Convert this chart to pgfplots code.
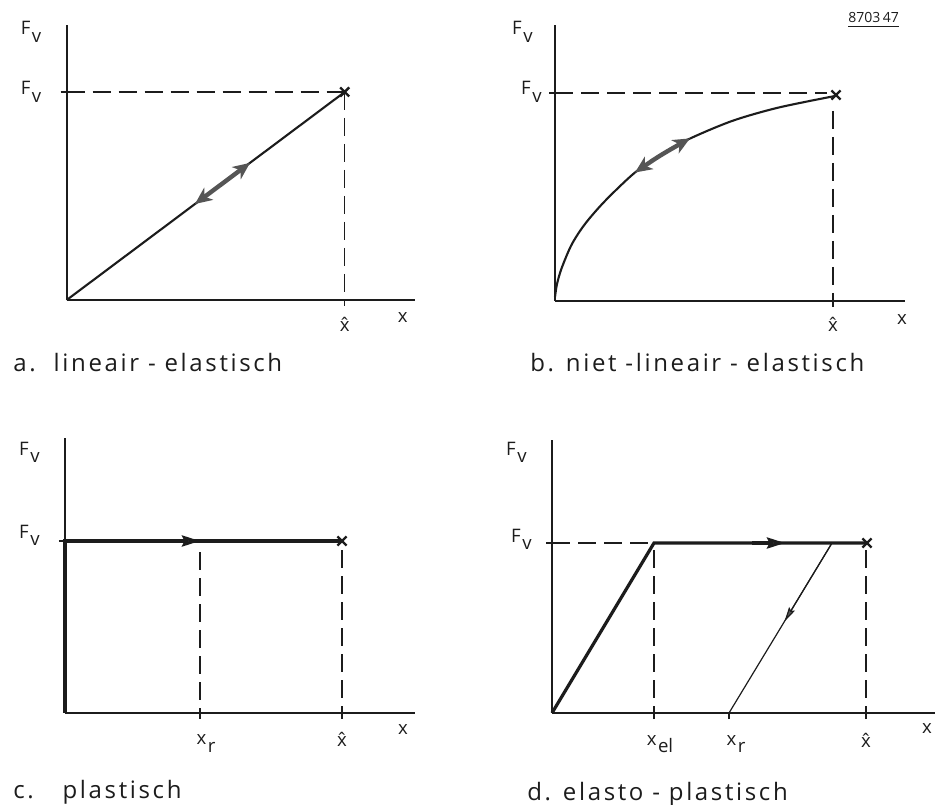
\documentclass[border=0pt]{standalone}
\usepackage{pgfplots}
\pgfplotsset{compat=1.18}
\usepackage{fontspec}
\setmainfont{Open Sans}
\newfontfamily\capfont{Open Sans}[LetterSpace=11]
\usetikzlibrary{arrows.meta}

% letter with a lowered, full-size index (technical lettering style)
\newcommand\sub[2]{#1\kern0.08em\raisebox{-0.42em}{#2}}
\newcommand\Fv{\sub{F}{v}}
\newcommand\xhat{\accent"02C6 x}

\definecolor{ink}{HTML}{1C1C1C}
\definecolor{flow}{HTML}{555555}

\tikzset{
  lbl/.style={font=\fontsize{9.3bp}{10bp}\selectfont, text=ink, inner sep=0pt},
  bijschrift/.style={font=\capfont\fontsize{12bp}{14bp}\selectfont, text=ink, inner sep=0pt, anchor=base west},
}

\pgfplotsset{
  kracht/.style={
    x=0.5bp, y=0.5bp,
    xmin=0, ymin=0,
    axis lines=left,
    axis line style={-, line width=0.9bp, ink},
    enlargelimits=false,
    clip=false,
    anchor=south west,
    tick align=outside,
    major tick length=3bp,
    tick style={line width=0.7bp, ink},
    xticklabels={}, yticklabels={},
  },
  hulp/.style={ink, line width=0.6bp, dash pattern=on 9bp off 4bp},
  pad/.style={ink, line width=1.05bp},
  dikpad/.style={ink, line width=1.6bp},
  eind/.style={only marks, mark=x, mark size=3.2bp, mark options={line width=1.2bp, ink}},
  pijl/.style={draw=flow, line width=2.2bp,
    {Stealth[length=8.5bp,width=7.5bp,inset=2.5bp,fill=flow]}-{Stealth[length=8.5bp,width=7.5bp,inset=2.5bp,fill=flow]}},
  kop/.style={-{Stealth[length=9bp,width=5.5bp,inset=1.2bp,color=ink,fill=flow]}},
}

\begin{document}
\begin{tikzpicture}
\useasboundingbox (0,0) rectangle (468.5bp,402.5bp);

% ---------- a. lineair-elastisch ----------
\begin{axis}[kracht, at={(33.35bp,252.5bp)}, xmax=348, ymax=275,
    xtick={278}, ytick={208}]
  \addplot[hulp] coordinates {(0,208) (278,208)};
  \addplot[hulp] coordinates {(278,208) (278,0)};
  \addplot[pad] coordinates {(0,0) (278,208)};
  \addplot[pijl] coordinates {(128.3,96) (183.3,137.1)};
  \addplot[eind] coordinates {(278,208)};
  \node[lbl, anchor=base east] at (axis cs:-25,205) {\Fv};
  \node[lbl, anchor=base east] at (axis cs:-25,265) {\Fv};
  \node[lbl, anchor=base] at (axis cs:278,-32) {\xhat};
  \node[lbl, anchor=base] at (axis cs:336,-23) {x};
\end{axis}

% ---------- b. niet-lineair-elastisch ----------
\begin{axis}[kracht, at={(277.5bp,252bp)}, xmax=350, ymax=276,
    xtick={278}, ytick={208}]
  \addplot[hulp] coordinates {(0,208) (272,208)};
  \addplot[hulp] coordinates {(278,190) (278,0)};
  \addplot[pad, smooth] coordinates {
    (0,4) (2,17) (6.7,33) (16.7,56.5) (30,77) (50,100) (80,128.5)
    (107,146.5) (133,161.5) (177,180) (223,193.3) (280,205)};
  \addplot[pijl, smooth] coordinates {(80,128.5) (107,146.5) (135,162.6)};
  \addplot[eind] coordinates {(281,206)};
  \node[lbl, anchor=base east] at (axis cs:-13,206) {\Fv};
  \node[lbl, anchor=base east] at (axis cs:-22,266) {\Fv};
  \node[lbl, anchor=base] at (axis cs:278,-31) {\xhat};
  \node[lbl, anchor=base] at (axis cs:347,-24) {x};
\end{axis}

% ---------- c. plastisch ----------
\begin{axis}[kracht, at={(32.5bp,46bp)}, xmax=350, ymax=275,
    xtick={135,277}, ytick={172}]
  \addplot[hulp] coordinates {(135,161) (135,0)};
  \addplot[hulp] coordinates {(277,163) (277,0)};
  \addplot[dikpad] coordinates {(0,0) (0,172) (277,172)};
  \addplot[dikpad, kop] coordinates {(100,172) (135,172)};
  \addplot[eind] coordinates {(277,172)};
  \node[lbl, anchor=base east] at (axis cs:-25,175) {\Fv};
  \node[lbl, anchor=base east] at (axis cs:-25,258) {\Fv};
  \node[lbl, anchor=base] at (axis cs:141,-32) {\sub{x}{r}};
  \node[lbl, anchor=base] at (axis cs:277,-34) {\xhat};
  \node[lbl, anchor=base] at (axis cs:338,-22) {x};
\end{axis}

% ---------- d. elasto-plastisch ----------
\begin{axis}[kracht, at={(276bp,46bp)}, xmax=383, ymax=273,
    xtick={102,177,314}, ytick={170}]
  \addplot[hulp] coordinates {(0,170) (102,170)};
  \addplot[hulp] coordinates {(102,163) (102,0)};
  \addplot[hulp] coordinates {(314,163) (314,0)};
  \addplot[dikpad] coordinates {(0,0) (102,170) (314,170)};
  \addplot[dikpad, kop] coordinates {(200,170) (233,170)};
  \addplot[ink, line width=0.6bp] coordinates {(280,170) (177,0)};
  \addplot[ink, line width=0.6bp, -{Stealth[length=7.5bp,width=3.4bp,inset=1bp,fill=flow]}]
    coordinates {(280,170) (232.3,91.3)};
  \addplot[eind] coordinates {(315,170)};
  \node[lbl, anchor=base east] at (axis cs:-20,171) {\Fv};
  \node[lbl, anchor=base east] at (axis cs:-25,258) {\Fv};
  \node[lbl, anchor=base] at (axis cs:108,-32) {\sub{x}{el}};
  \node[lbl, anchor=base] at (axis cs:184,-32) {\sub{x}{r}};
  \node[lbl, anchor=base] at (axis cs:314,-34) {\xhat};
  \node[lbl, anchor=base] at (axis cs:375,-20) {x};
\end{axis}

% captions and drawing number
\node[bijschrift] at (6.5bp,216.5bp) {a.\hspace{0.75em}lineair - elastisch};
\node[bijschrift] at (265bp,216.5bp) {b. niet -lineair - elastisch};
\node[bijschrift] at (6.5bp,3.5bp) {c.\hspace{1.2em}plastisch};
\node[bijschrift] at (263.5bp,2.5bp) {d. elasto - plastisch};
\node[font=\fontsize{7bp}{8bp}\selectfont, text=ink, inner sep=0pt, anchor=base west]
  at (424bp,391bp) {\underline{8703\,47}};
\end{tikzpicture}
\end{document}
